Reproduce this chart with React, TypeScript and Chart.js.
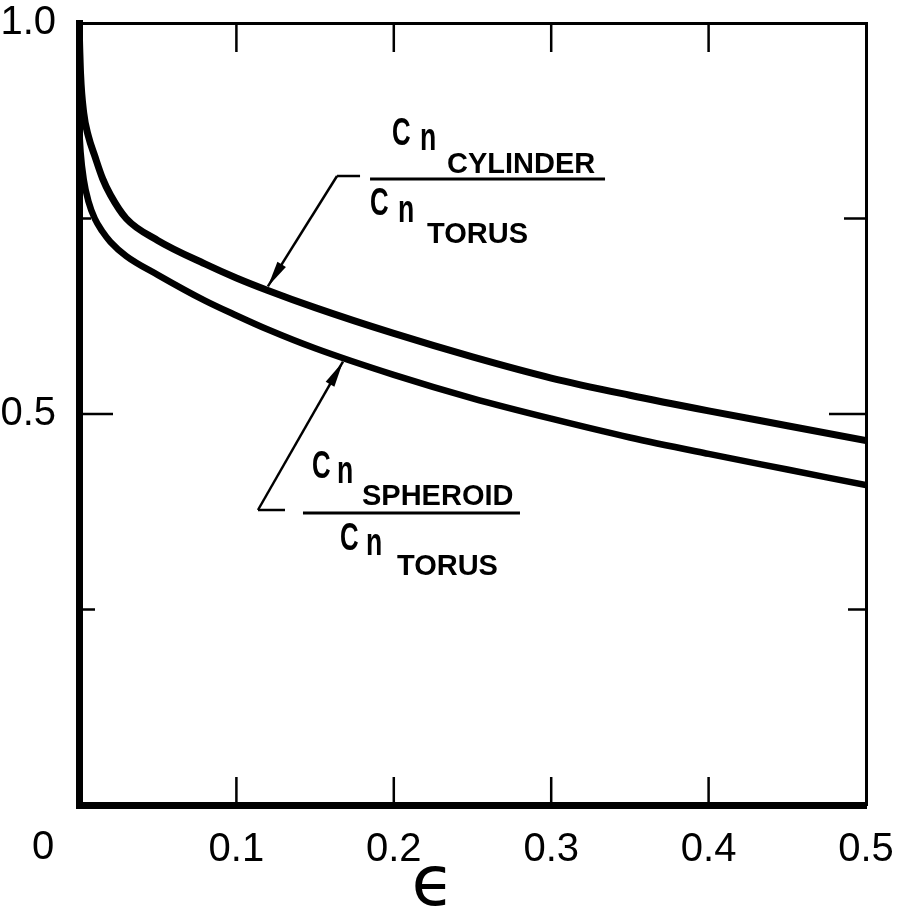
import React, { useEffect, useRef } from "react";
import { Chart, registerables } from "chart.js";

Chart.register(...registerables);

// ---- data ----
const epsilon = [0, 0.001, 0.003, 0.006, 0.01, 0.015, 0.02, 0.03, 0.05, 0.08, 0.1, 0.12, 0.15, 0.2, 0.25, 0.3, 0.35, 0.4, 0.45, 0.5];
const cylinderOverTorus = [1.0, 0.935, 0.885, 0.855, 0.83, 0.801, 0.78, 0.75, 0.722, 0.692, 0.674, 0.658, 0.636, 0.603, 0.573, 0.546, 0.524, 0.504, 0.485, 0.466];
const spheroidOverTorus = [0.87, 0.835, 0.8, 0.772, 0.75, 0.733, 0.72, 0.702, 0.678, 0.645, 0.626, 0.608, 0.584, 0.55, 0.52, 0.494, 0.47, 0.449, 0.429, 0.409];

const xTickValues = [0, 0.1, 0.2, 0.3, 0.4, 0.5];
const xTickLabels = ["0", "0.1", "0.2", "0.3", "0.4", "0.5"];
const yTickValues = [0, 0.25, 0.5, 0.75, 1.0];
const yTickLabels = ["", "", "0.5", "", "1.0"];
const xInnerTicks = [0.1, 0.2, 0.3, 0.4];
const yInnerTicks = [0.25, 0.5, 0.75];
const xAxisTitle = "ϵ";

// annotation anchors (data coordinates)
const cylinderArrowX = 0.12;
const spheroidArrowX = 0.1677;

const TICK_FONT = "'Liberation Sans', sans-serif";

function interp(xs: number[], ys: number[], x: number) {
  for (let i = 0; i < xs.length - 1; i++) {
    if (x >= xs[i] && x <= xs[i + 1]) {
      const t = (x - xs[i]) / (xs[i + 1] - xs[i]);
      return ys[i] + t * (ys[i + 1] - ys[i]);
    }
  }
  return ys[ys.length - 1];
}

function scaledText(ctx: CanvasRenderingContext2D, text: string, x: number, y: number, font: string, sx: number) {
  ctx.save();
  ctx.translate(x, y);
  ctx.scale(sx, 1);
  ctx.font = font;
  ctx.textAlign = "left";
  ctx.textBaseline = "alphabetic";
  ctx.fillStyle = "#000";
  ctx.fillText(text, 0, 0);
  ctx.restore();
}

function arrow(ctx: CanvasRenderingContext2D, x0: number, y0: number, x1: number, y1: number) {
  ctx.save();
  ctx.strokeStyle = "#000";
  ctx.fillStyle = "#000";
  ctx.lineWidth = 2.5;
  ctx.beginPath();
  ctx.moveTo(x0, y0);
  ctx.lineTo(x1, y1);
  ctx.stroke();
  const ang = Math.atan2(y1 - y0, x1 - x0);
  const len = 26;
  const hw = 5;
  const bx = x1 - len * Math.cos(ang);
  const by = y1 - len * Math.sin(ang);
  ctx.beginPath();
  ctx.moveTo(x1, y1);
  ctx.lineTo(bx + hw * Math.sin(ang), by - hw * Math.cos(ang));
  ctx.lineTo(bx - hw * Math.sin(ang), by + hw * Math.cos(ang));
  ctx.closePath();
  ctx.fill();
  ctx.restore();
}

function fraction(ctx: CanvasRenderingContext2D, left: number, barY: number, width: number, word: string, lay: any) {
  const big = "bold 38px 'Liberation Sans', sans-serif";
  const small = "bold 29px 'Liberation Sans', sans-serif";
  ctx.save();
  ctx.strokeStyle = "#000";
  ctx.lineWidth = 3;
  ctx.beginPath();
  ctx.moveTo(left, barY);
  ctx.lineTo(left + width, barY);
  ctx.stroke();
  ctx.restore();
  // numerator
  scaledText(ctx, "C", left + lay.nc[0], barY + lay.nc[1], big, 0.68);
  scaledText(ctx, "n", left + lay.nn[0], barY + lay.nn[1], big, 0.7);
  ctx.save();
  ctx.font = small;
  ctx.fillStyle = "#000";
  ctx.fillText(word, left + lay.nw[0], barY + lay.nw[1]);
  ctx.restore();
  // denominator
  scaledText(ctx, "C", left + lay.dc[0], barY + lay.dc[1], big, 0.68);
  scaledText(ctx, "n", left + lay.dn[0], barY + lay.dn[1], big, 0.7);
  ctx.save();
  ctx.font = small;
  ctx.fillStyle = "#000";
  ctx.fillText("TORUS", left + lay.dw[0], barY + lay.dw[1]);
  ctx.restore();
}

const framePlugin = {
  id: "frameAndNotes",
  afterDraw(chart: any) {
    const ctx: CanvasRenderingContext2D = chart.ctx;
    const xs = chart.scales.x;
    const ys = chart.scales.y;
    const { top, bottom, left, right } = chart.chartArea;
    ctx.save();
    ctx.strokeStyle = "#000";
    ctx.lineWidth = 2.5;
    // inward ticks top/bottom
    xInnerTicks.forEach((v) => {
      const px = xs.getPixelForValue(v);
      ctx.beginPath();
      ctx.moveTo(px, top);
      ctx.lineTo(px, top + 29);
      ctx.moveTo(px, bottom);
      ctx.lineTo(px, bottom - 28);
      ctx.stroke();
    });
    const leftLen = [16, 34, 12];
    const rightLen = [18, 37, 22];
    yInnerTicks.forEach((v, i) => {
      const py = ys.getPixelForValue(v);
      ctx.beginPath();
      ctx.moveTo(left, py);
      ctx.lineTo(left + leftLen[i], py);
      ctx.moveTo(right, py);
      ctx.lineTo(right - rightLen[i], py);
      ctx.stroke();
    });
    ctx.restore();

    // "0" label of x axis, set to the lower left of the corner
    ctx.save();
    ctx.fillStyle = "#000";
    ctx.font = "40px " + TICK_FONT;
    ctx.textAlign = "center";
    ctx.textBaseline = "middle";
    ctx.fillText(xTickLabels[0], xs.getPixelForValue(0) - 36, bottom + 43);
    // epsilon title
    ctx.font = "70px 'DejaVu Sans', sans-serif";
    ctx.fillText(xAxisTitle, xs.getPixelForValue(0.2249), bottom + 82);
    ctx.restore();

    // cylinder annotation
    const cTipX = xs.getPixelForValue(cylinderArrowX);
    const cTipY = ys.getPixelForValue(interp(epsilon, cylinderOverTorus, cylinderArrowX)) - 4;
    const cBarLeft = xs.getPixelForValue(0.1849);
    const cBarY = ys.getPixelForValue(0.8005);
    const cCornerX = cBarLeft - 33;
    const cCornerY = cBarY - 3;
    ctx.save();
    ctx.strokeStyle = "#000";
    ctx.lineWidth = 2.5;
    ctx.beginPath();
    ctx.moveTo(cCornerX, cCornerY);
    ctx.lineTo(cCornerX + 23, cCornerY);
    ctx.stroke();
    ctx.restore();
    arrow(ctx, cCornerX, cCornerY, cTipX, cTipY);
    fraction(ctx, cBarLeft, cBarY, 235, "CYLINDER", {
      nc: [22, -34], nn: [50, -29], nw: [77, -6],
      dc: [0, 36], dn: [28, 43], dw: [57, 64],
    });

    // spheroid annotation
    const sTipX = xs.getPixelForValue(spheroidArrowX);
    const sTipY = ys.getPixelForValue(interp(epsilon, spheroidOverTorus, spheroidArrowX)) + 4;
    const sBarLeft = xs.getPixelForValue(0.1423);
    const sBarY = ys.getPixelForValue(0.3734);
    const sCornerX = sBarLeft - 45;
    const sCornerY = sBarY - 3;
    ctx.save();
    ctx.strokeStyle = "#000";
    ctx.lineWidth = 2.5;
    ctx.beginPath();
    ctx.moveTo(sCornerX, sCornerY);
    ctx.lineTo(sCornerX + 27, sCornerY);
    ctx.stroke();
    ctx.restore();
    arrow(ctx, sCornerX, sCornerY, sTipX, sTipY);
    fraction(ctx, sBarLeft, sBarY, 217, "SPHEROID", {
      nc: [9, -35], nn: [34, -30], nw: [59, -8],
      dc: [37, 37], dn: [63, 42], dw: [94, 62],
    });
  },
};

function fixSize(w: number | null, h: number | null) {
  return (s: any) => {
    if (w !== null) s.width = w;
    if (h !== null) s.height = h;
    s.paddingTop = 0;
    s.paddingBottom = 0;
    s.paddingLeft = 0;
    s.paddingRight = 0;
  };
}

export default function App() {
  const ref = useRef<HTMLCanvasElement | null>(null);
  useEffect(() => {
    if (!ref.current) return;
    const tickFont = { family: TICK_FONT, size: 40 };
    const chart = new Chart(ref.current, {
      type: "line",
      data: {
        datasets: [
          {
            label: "Cn cylinder / Cn torus",
            data: epsilon.map((x, i) => ({ x, y: cylinderOverTorus[i] })),
            borderColor: "#000",
            borderWidth: 7,
            pointRadius: 0,
            cubicInterpolationMode: "monotone",
            fill: false,
          },
          {
            label: "Cn spheroid / Cn torus",
            data: epsilon.map((x, i) => ({ x, y: spheroidOverTorus[i] })),
            borderColor: "#000",
            borderWidth: 6.5,
            pointRadius: 0,
            cubicInterpolationMode: "monotone",
            fill: false,
          },
        ],
      },
      options: {
        animation: false,
        responsive: false,
        devicePixelRatio: 1,
        layout: { padding: 0 },
        plugins: { legend: { display: false }, tooltip: { enabled: false } },
        scales: {
          x: {
            type: "linear",
            position: "bottom",
            min: 0,
            max: 0.5,
            afterBuildTicks: (s: any) => { s.ticks = xTickValues.map((v) => ({ value: v })); },
            ticks: {
              autoSkip: false,
              maxRotation: 0,
              color: "#000",
              font: tickFont,
              padding: 13,
              callback: (v: any) => { const i = xTickValues.indexOf(Number(v)); return i > 0 ? xTickLabels[i] : ""; },
            },
            grid: { display: false },
            border: { display: true, width: 7, color: "#000" },
            afterFit: fixSize(null, 112),
          },
          x2: {
            type: "linear",
            position: "top",
            min: 0,
            max: 0.5,
            ticks: { display: false },
            grid: { display: false },
            border: { display: true, width: 3, color: "#000" },
            afterFit: fixSize(null, 23),
          },
          y: {
            type: "linear",
            position: "left",
            min: 0,
            max: 1,
            afterBuildTicks: (s: any) => { s.ticks = yTickValues.map((v) => ({ value: v })); },
            ticks: {
              autoSkip: false,
              color: "#000",
              font: tickFont,
              padding: 15,
              callback: (v: any) => { const i = yTickValues.indexOf(Number(v)); return i >= 0 ? yTickLabels[i] : ""; },
            },
            grid: { display: false },
            border: { display: true, width: 7, color: "#000" },
            afterFit: fixSize(79, null),
          },
          y2: {
            type: "linear",
            position: "right",
            min: 0,
            max: 1,
            ticks: { display: false },
            grid: { display: false },
            border: { display: true, width: 3, color: "#000" },
            afterFit: fixSize(31, null),
          },
        },
      } as any,
      plugins: [framePlugin],
    });
    return () => chart.destroy();
  }, []);
  return (
    <div style={{ position: "absolute", left: 0, top: 0, width: 897, height: 917, background: "#fff" }}>
      <canvas ref={ref} width={897} height={917} style={{ display: "block" }} />
    </div>
  );
}
